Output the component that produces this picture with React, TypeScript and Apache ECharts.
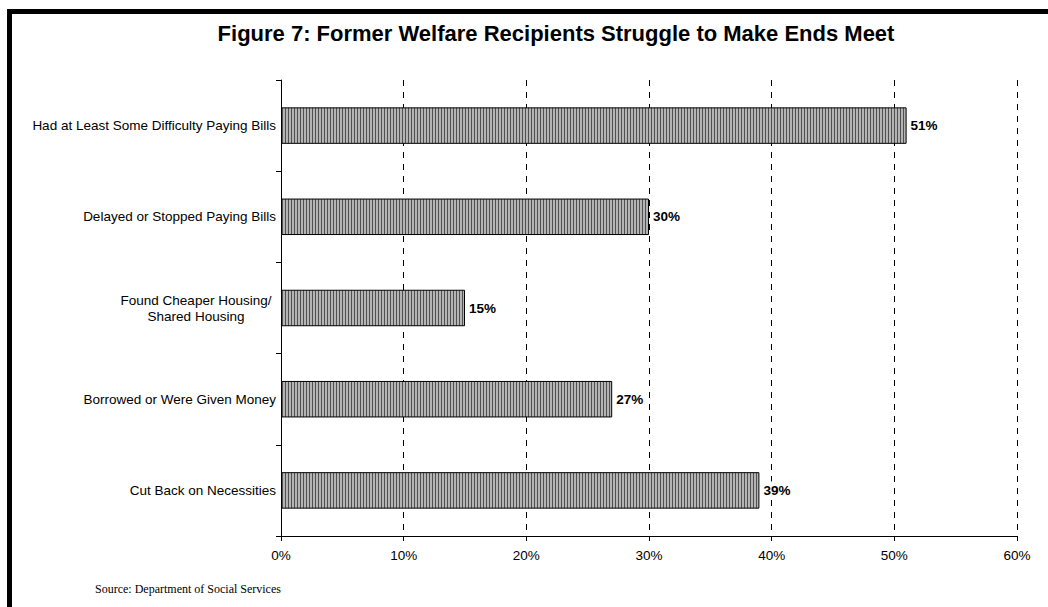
import React, { useEffect, useRef } from "react";
import * as echarts from "echarts";

const categories = [
  "Had at Least Some Difficulty Paying Bills",
  "Delayed or Stopped Paying Bills",
  "Found Cheaper Housing/\nShared Housing",
  "Borrowed or Were Given Money",
  "Cut Back on Necessities",
];
const values = [51, 30, 15, 27, 39];
const xTicks = [0, 10, 20, 30, 40, 50, 60];
const title = "Figure 7: Former Welfare Recipients Struggle to Make Ends Meet";
const source = "Source: Department of Social Services";

function makePattern() {
  const c = document.createElement("canvas");
  c.width = 3;
  c.height = 4;
  const ctx = c.getContext("2d")!;
  ctx.fillStyle = "#b4b4b4";
  ctx.fillRect(0, 0, 3, 4);
  ctx.fillStyle = "#505050";
  ctx.fillRect(0, 0, 1, 4);
  return c;
}

const FONT = "Arial, Liberation Sans";

export default function App() {
  const ref = useRef<HTMLDivElement>(null);
  useEffect(() => {
    if (!ref.current) return;
    const chart = echarts.init(ref.current, null, { renderer: "svg" });
    const pattern = makePattern();
    chart.setOption({
      animation: false,
      backgroundColor: "#ffffff",
      title: {
        text: title,
        left: 551,
        textAlign: "center",
        top: 17,
        textStyle: { fontFamily: FONT, fontWeight: "bold", fontSize: 22, color: "#000" },
      },
      grid: { left: 281, right: 31, top: 80, bottom: 71, containLabel: false },
      xAxis: {
        type: "value",
        min: 0,
        max: 60,
        interval: 10,
        axisLine: { show: true, lineStyle: { color: "#000", width: 1 } },
        axisTick: { show: true, length: 5, lineStyle: { color: "#000" } },
        axisLabel: {
          formatter: (v: number) => (xTicks.includes(v) ? v + "%" : ""),
          color: "#000",
          fontFamily: FONT,
          fontSize: 13.5,
          margin: 12,
        },
        splitLine: { show: true, lineStyle: { color: "#000", type: [6, 6], width: 1 } },
      },
      yAxis: {
        type: "category",
        data: categories,
        inverse: true,
        axisLine: { show: true, lineStyle: { color: "#000", width: 1 } },
        axisTick: { show: true, length: 5, alignWithLabel: false, lineStyle: { color: "#000" } },
        axisLabel: {
          color: "#000",
          fontFamily: FONT,
          fontSize: 13.5,
          margin: 5,
          formatter: (v: string) => {
            if (v.indexOf("\n") >= 0) {
              return v
                .split("\n")
                .map((s) => "{c|" + s + "}")
                .join("\n");
            }
            return v;
          },
          rich: {
            c: {
              width: 160,
              align: "center",
              fontFamily: FONT,
              fontSize: 13.5,
              color: "#000",
              lineHeight: 16,
            },
          },
        },
        splitLine: { show: false },
      },
      series: [
        {
          type: "bar",
          data: values,
          barWidth: "40%",
          itemStyle: {
            color: { image: pattern, repeat: "repeat" } as any,
            borderColor: "#000",
            borderWidth: 1,
          },
          label: {
            show: true,
            position: "right",
            distance: 3,
            formatter: (p: any) => p.value + "%",
            color: "#000",
            fontFamily: FONT,
            fontWeight: "bold",
            fontSize: 13.5,
            backgroundColor: "#ffffff",
            padding: [2, 1, 2, 1],
          },
        },
      ],
      graphic: [
        { type: "rect", shape: { x: 7, y: 9, width: 1041, height: 5 }, style: { fill: "#000" } },
        { type: "rect", shape: { x: 7, y: 9, width: 5, height: 598 }, style: { fill: "#000" } },
        {
          type: "text",
          left: 95,
          top: 583,
          style: {
            text: source,
            fontFamily: "Liberation Serif, serif",
            fontSize: 12,
            fill: "#000",
          },
        },
      ],
    });
    return () => chart.dispose();
  }, []);
  return (
    <div
      ref={ref}
      style={{ position: "fixed", left: 0, top: 0, width: 1048, height: 607 }}
    />
  );
}
